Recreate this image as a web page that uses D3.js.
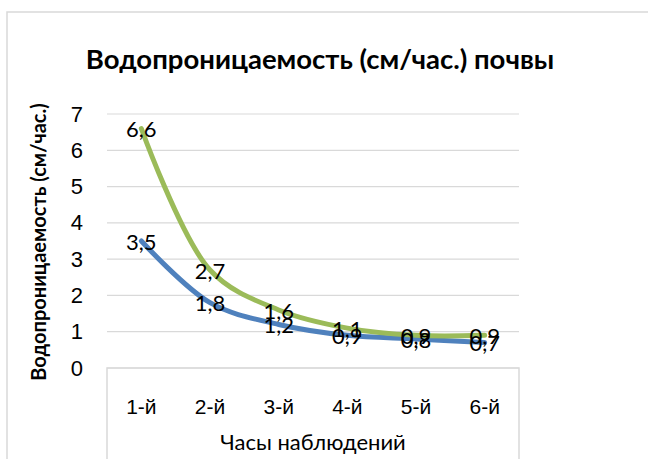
<!DOCTYPE html>
<html>
<head>
<meta charset="utf-8">
<script src="https://cdn.jsdelivr.net/npm/d3@7"></script>
<style>
  html, body { margin: 0; padding: 0; background: #fff; }
  svg { display: block; font-family: Lato, "Noto Sans", sans-serif; }
</style>
</head>
<body>
<svg id="chart" width="648" height="459"></svg>
<script>
// Observation hours (categories)
const hours = ["1-й", "2-й", "3-й", "4-й", "5-й", "6-й"];
// Water permeability, cm/hour
const seriesGreen = [6.6, 2.7, 1.6, 1.1, 0.9, 0.9];
const seriesBlue  = [3.5, 1.8, 1.2, 0.9, 0.8, 0.7];
const yTicks = [0, 1, 2, 3, 4, 5, 6, 7];

const titleText = "Водопроницаемость (см/час.) почвы";
const yTitleText = "Водопроницаемость (см/час.)";
const xTitleText = "Часы наблюдений";

const svg = d3.select("#chart");
const plot = { left: 107, right: 519, top: 114, bottom: 368 };

// chart frame
svg.append("rect")
  .attr("x", 7).attr("y", 12)
  .attr("width", 700).attr("height", 500)
  .attr("fill", "#fff").attr("stroke", "#d9d9d9").attr("stroke-width", 1.5);

const x = d3.scaleBand().domain(hours).range([plot.left, plot.right]);
const y = d3.scaleLinear().domain([0, 7]).range([plot.bottom, plot.top]);

// gridlines
svg.append("g")
  .selectAll("line").data(yTicks).join("line")
  .attr("x1", plot.left).attr("x2", plot.right)
  .attr("y1", d => y(d)).attr("y2", d => y(d))
  .attr("stroke", "#d9d9d9").attr("stroke-width", 1.2);

// category axis box
svg.append("rect")
  .attr("x", plot.left).attr("y", plot.bottom)
  .attr("width", plot.right - plot.left).attr("height", 200)
  .attr("fill", "none").attr("stroke", "#d9d9d9").attr("stroke-width", 1.5);

// y axis tick labels
const yAxis = d3.axisLeft(y).tickValues(yTicks).tickSize(0).tickPadding(0).tickFormat(d3.format("d"));
const yg = svg.append("g").attr("transform", `translate(${plot.left - 24},0)`).call(yAxis);
yg.select(".domain").remove();
yg.selectAll("text").attr("font-size", 22).attr("fill", "#000").attr("font-family", null);

// x axis tick labels
const xAxis = d3.axisBottom(x).tickSize(0).tickPadding(0);
const xg = svg.append("g").attr("transform", `translate(0,${plot.bottom + 31})`).call(xAxis);
xg.select(".domain").remove();
xg.selectAll("text").attr("font-size", 21).attr("fill", "#000").attr("font-family", null);

// smoothed lines
const line = d3.line()
  .x((d, i) => x(hours[i]) + x.bandwidth() / 2)
  .y(d => y(d))
  .curve(d3.curveCatmullRom.alpha(0.5));

const series = [
  { values: seriesBlue, color: "#4f81bd" },
  { values: seriesGreen, color: "#9bbb59" }
];

series.forEach(s => {
  svg.append("path")
    .datum(s.values)
    .attr("d", line)
    .attr("fill", "none")
    .attr("stroke", s.color)
    .attr("stroke-width", 5)
    .attr("stroke-linecap", "round");
});

// data labels
series.forEach(s => {
  svg.append("g")
    .selectAll("text").data(s.values).join("text")
    .attr("x", (d, i) => x(hours[i]) + x.bandwidth() / 2)
    .attr("y", d => y(d))
    .attr("dy", "0.4em")
    .attr("text-anchor", "middle")
    .attr("font-size", 22)
    .attr("fill", "#000")
    .text(d => d3.format(".1f")(d).replace(".", ","));
});

// titles
svg.append("text")
  .attr("x", 320).attr("y", 69)
  .attr("text-anchor", "middle")
  .attr("font-size", 27.5).attr("font-weight", "bold")
  .text(titleText);

svg.append("text")
  .attr("transform", `translate(46,${(plot.top + plot.bottom) / 2 + 1}) rotate(-90)`)
  .attr("text-anchor", "middle")
  .attr("font-size", 20).attr("font-weight", "bold")
  .text(yTitleText);

svg.append("text")
  .attr("x", (plot.left + plot.right) / 2).attr("y", 450)
  .attr("text-anchor", "middle")
  .attr("font-size", 22)
  .text(xTitleText);
</script>
</body>
</html>
